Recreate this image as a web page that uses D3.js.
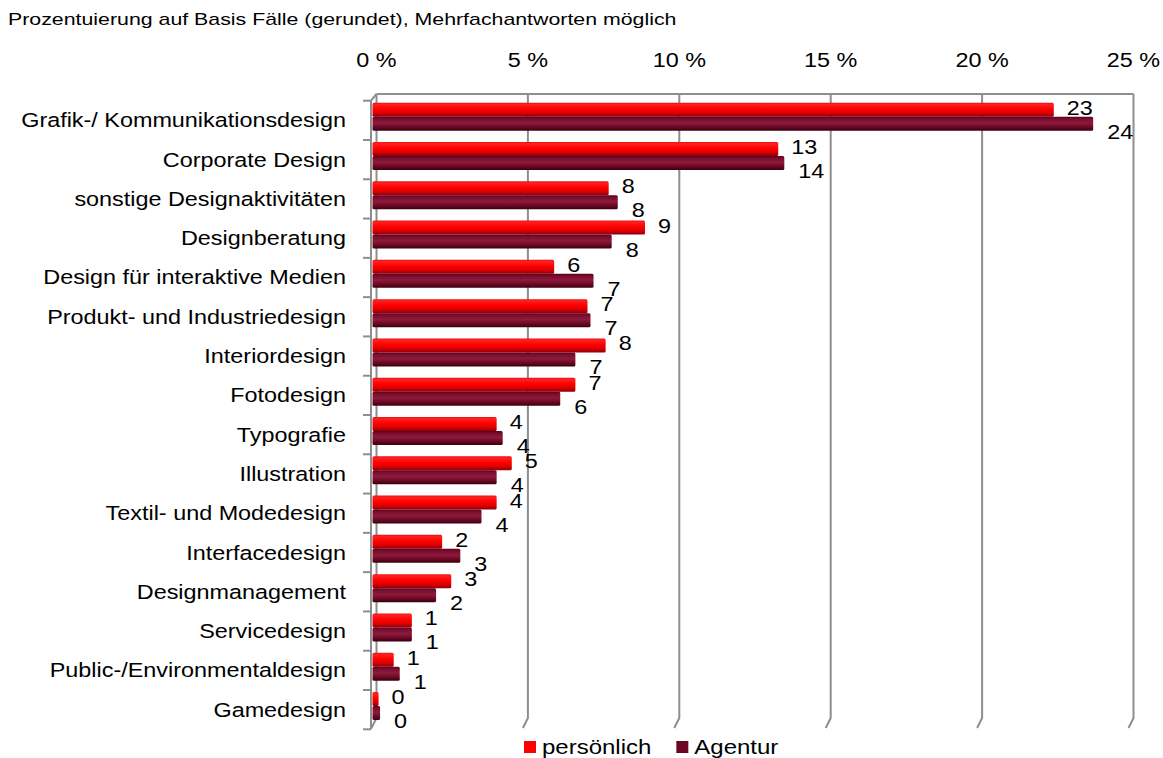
<!DOCTYPE html>
<html><head><meta charset="utf-8">
<script src="https://cdn.jsdelivr.net/npm/d3@7"></script>
<style>
body{margin:0;background:#fff}
svg{display:block}
text{font-family:"Liberation Sans",Arial,sans-serif;fill:#000}
</style>
</head><body>
<svg id="chart" width="1163" height="758"></svg>
<script>
// ---- data ----
const categories = [
  "Grafik-/ Kommunikationsdesign", "Corporate Design", "sonstige Designaktivitäten",
  "Designberatung", "Design für interaktive Medien", "Produkt- und Industriedesign",
  "Interiordesign", "Fotodesign", "Typografie", "Illustration", "Textil- und Modedesign",
  "Interfacedesign", "Designmanagement", "Servicedesign", "Public-/Environmentaldesign", "Gamedesign"
];
const persoenlich = [22.5, 13.4, 7.8, 9.0, 6.0, 7.1, 7.7, 6.7, 4.1, 4.6, 4.1, 2.3, 2.6, 1.3, 0.7, 0.2];
const agentur     = [23.8, 13.6, 8.1, 7.9, 7.3, 7.2, 6.7, 6.2, 4.3, 4.1, 3.6, 2.9, 2.1, 1.3, 0.9, 0.25];
const seriesNames = ["persönlich", "Agentur"];
const xTicks = [0, 5, 10, 15, 20, 25];
const xTickLabels = ["0 %", "5 %", "10 %", "15 %", "20 %", "25 %"];
const titleText = "Prozentuierung auf Basis Fälle (gerundet), Mehrfachantworten möglich";

// ---- layout ----
const svg = d3.select("#chart");
const SX = 1.2;           // horizontal text stretch of the original
const DX = 4;             // depth offset of back wall
const TOP = 94, FLOOR = 718;
const gridColor = "#8e8e8e";

const x = d3.scaleLinear().domain([0, 25]).range([372.5, 1129.5]);
const y = d3.scaleBand().domain(categories).range([100.7, 729.3]);
const ySub = d3.scaleBand().domain(seriesNames).range([2, 30]);

const defs = svg.append("defs");
function grad(id, stops) {
  const g = defs.append("linearGradient").attr("id", id).attr("x1", 0).attr("y1", 0).attr("x2", 0).attr("y2", 1);
  stops.forEach(s => g.append("stop").attr("offset", s[0]).attr("stop-color", s[1]));
}
grad("gP", [[0, "#e81010"], [0.12, "#ff2020"], [0.45, "#ff0000"], [0.72, "#e00000"], [1, "#8a0010"]]);
grad("gA", [[0, "#5a0018"], [0.15, "#7a0c2c"], [0.45, "#8c1a3c"], [0.75, "#6a0822"], [1, "#380010"]]);
const fills = {"persönlich": "url(#gP)", "Agentur": "url(#gA)"};
const legendColors = {"persönlich": "#ff0000", "Agentur": "#6e0424"};

// title
const title = svg.append("text").text(titleText).style("font-size", "16px").attr("fill", "#222");
const tw = title.node().getComputedTextLength();
title.attr("transform", `translate(8,25) scale(${669 / tw},1)`);

// back wall gridlines with floor edge
const grid = svg.append("g");
grid.selectAll("path").data(xTicks).join("path")
  .attr("d", t => `M${x(t) + DX},${TOP}V${FLOOR}L${x(t) + DX - 5},${FLOOR + 10}`)
  .attr("fill", "none").attr("stroke", gridColor).attr("stroke-width", 2);
grid.append("path")
  .attr("d", `M${x(0) + DX},${TOP}H${x(25) + DX}`)
  .attr("stroke", gridColor).attr("stroke-width", 2);

// front axis with ticks
const axisX = 371;
grid.append("path")
  .attr("d", `M${x(0) + DX},${TOP}L${axisX},${y.range()[0]}V${y.range()[1]}`)
  .attr("fill", "none").attr("stroke", gridColor).attr("stroke-width", 2);
const tickYs = categories.map(c => y(c)).concat([y.range()[1]]);
grid.selectAll("line.tick").data(tickYs).join("line").attr("class", "tick")
  .attr("x1", 363).attr("x2", axisX).attr("y1", d => d).attr("y2", d => d)
  .attr("stroke", gridColor).attr("stroke-width", 2);

// top tick labels
svg.append("g").selectAll("text").data(xTicks).join("text")
  .text((t, i) => xTickLabels[i])
  .attr("text-anchor", "middle").style("font-size", "19.5px")
  .attr("transform", t => `translate(${x(t) + DX},67) scale(${SX},1)`);

// category labels
svg.append("g").selectAll("text").data(categories).join("text")
  .text(d => d).attr("text-anchor", "end").style("font-size", "19.5px")
  .attr("transform", d => `translate(346,${y(d) + y.bandwidth() / 2 + 7}) scale(${SX},1)`);

// bars
const rows = categories.map((c, i) => ({c, vals: [
  {s: "persönlich", v: persoenlich[i]}, {s: "Agentur", v: agentur[i]}]}));
const gRows = svg.append("g").selectAll("g").data(rows).join("g")
  .attr("transform", d => `translate(0,${y(d.c)})`);
gRows.selectAll("rect").data(d => d.vals).join("rect")
  .attr("x", x(0)).attr("y", d => ySub(d.s))
  .attr("width", d => x(d.v) - x(0)).attr("height", ySub.bandwidth())
  .attr("rx", 1.5).attr("fill", d => fills[d.s]);

// value labels
gRows.selectAll("text").data(d => d.vals).join("text")
  .text(d => Math.round(d.v)).style("font-size", "19.5px")
  .attr("transform", d => {
    const cy = ySub(d.s) + ySub.bandwidth() / 2 + (d.s === "persönlich" ? -2 : 8);
    const tx = x(d.v) + (d.s === "persönlich" ? 13 : 14);
    return `translate(${tx},${cy + 7}) scale(${SX},1)`;
  });

// legend
const lg = svg.append("g");
let lx = 524;
seriesNames.forEach(s => {
  lg.append("rect").attr("x", lx).attr("y", 741).attr("width", 12).attr("height", 12).attr("fill", legendColors[s]);
  const t = lg.append("text").text(s).style("font-size", "20px")
    .attr("transform", `translate(${lx + 18},754) scale(${SX},1)`);
  lx += 18 + t.node().getComputedTextLength() * SX + 25;
});
</script>
</body></html>
